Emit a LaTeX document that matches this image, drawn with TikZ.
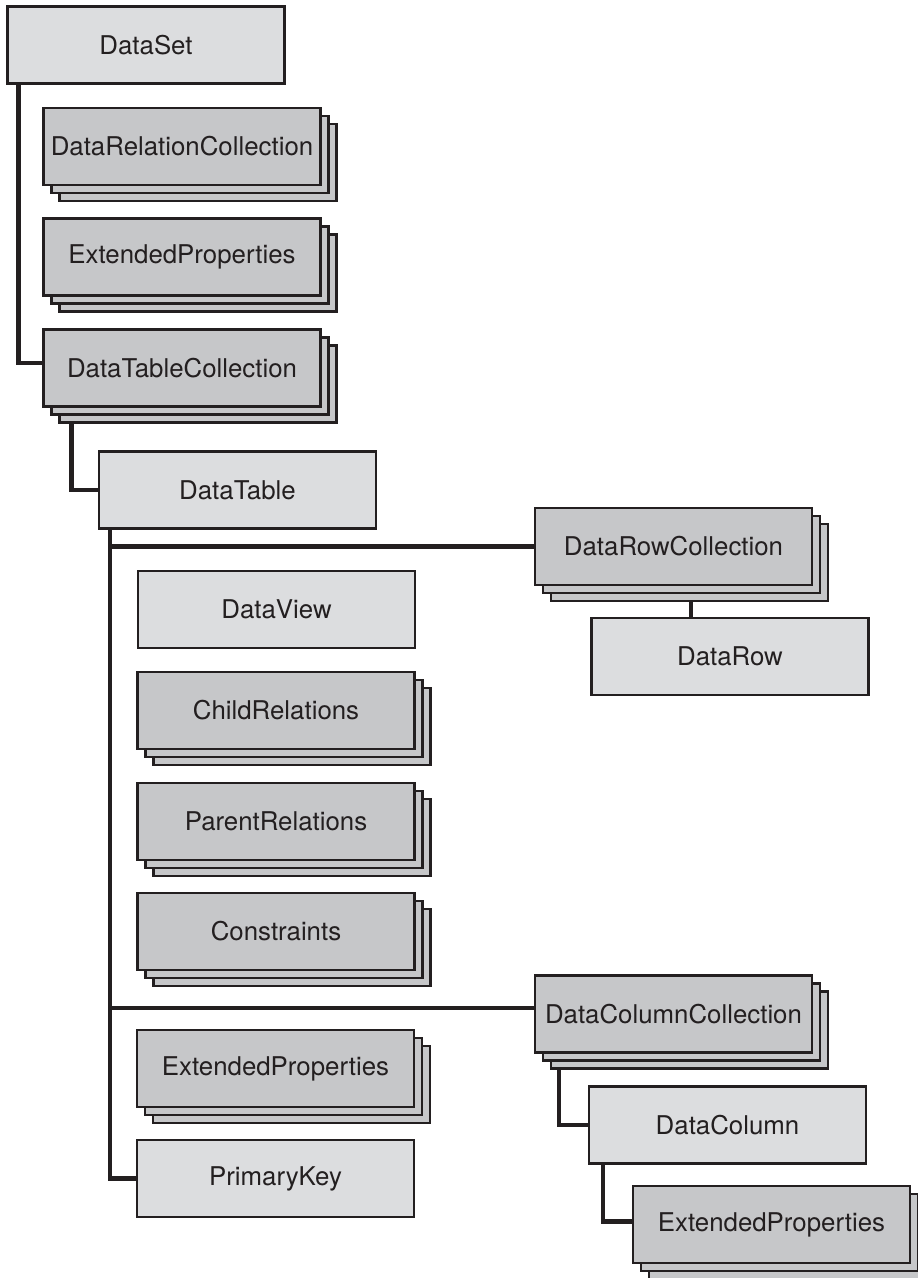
\documentclass[tikz,border=0pt]{standalone}
\usepackage{fontspec}
\setmainfont{TeX Gyre Heros}
\usetikzlibrary{positioning,calc,shadows,backgrounds}
\definecolor{boxlight}{HTML}{DCDDDF}
\definecolor{boxdark}{HTML}{C6C7C9}
\definecolor{edge}{HTML}{231F20}
\tikzset{
  conn/.style    = {line width=0.09cm, draw=edge},
  obox/.style    = {draw=edge, line width=0.042cm, fill=boxlight, text=edge,
                    minimum width=5.54cm, minimum height=1.54cm, inner sep=2pt,
                    font=\fontsize{14.7pt}{17pt}\selectfont},
  cbox/.style    = {obox, fill=boxdark,
                    copy shadow={shadow xshift=0.32cm, shadow yshift=-0.32cm,
                                 fill=boxdark, draw=edge, line width=0.042cm},
                    copy shadow={shadow xshift=0.16cm, shadow yshift=-0.16cm,
                                 fill=boxdark, draw=edge, line width=0.042cm}},
}
\begin{document}
\begin{tikzpicture}[x=0.02cm, y=-0.02cm]
  \clip (0,0) rectangle (918,1278);
  % DataSet and its members
  \node[obox] (dataset)    at (146,45)     {DataSet};
  \node[cbox] (relcoll)    at (182,146.5)  {DataRelationCollection};
  \node[cbox] (dsext)      at (182,257)    {ExtendedProperties};
  \node[cbox] (tablecoll)  at (182,368)    {DataTableCollection};
  % DataTable and its members
  \node[obox] (datatable)  at (237.5,490)  {DataTable};
  \node[obox] (dataview)   at (276.5,609.5){DataView};
  \node[cbox] (childrel)   at (276,710.5)  {ChildRelations};
  \node[cbox] (parentrel)  at (276,821.5)  {ParentRelations};
  \node[cbox] (constr)     at (276,931.5)  {Constraints};
  \node[cbox] (tblext)     at (275.5,1068.5){ExtendedProperties};
  \node[obox] (primkey)    at (275.5,1178.5){PrimaryKey};
  % rows and columns
  \node[cbox] (rowcoll)    at (673.5,546.5){DataRowCollection};
  \node[obox] (datarow)    at (730,656.5)  {DataRow};
  \node[cbox] (colcoll)    at (673.5,1014) {DataColumnCollection};
  \node[obox] (datacol)    at (727.5,1125) {DataColumn};
  \node[cbox] (colext)     at (771.5,1224.5){ExtendedProperties};
  % connectors behind the boxes
  \begin{scope}[on background layer]
    \draw[conn] (dataset.south west)++(12,0) |- ([yshift=0.1cm]tablecoll.west);
    \draw[conn] (tablecoll.south west)++(29,0) |- (datatable.west);
    \draw[conn] (datatable.south west)++(12,0) |- (primkey.west);
    \draw[conn] (datatable.south west)++(12,0) |- (rowcoll.west);
    \draw[conn] (datatable.south west)++(12,0) |- ([yshift=0.12cm]colcoll.west);
    \draw[conn] ([xshift=0.35cm]rowcoll.south) -- ([xshift=0.35cm]rowcoll.south |- datarow.north);
    \draw[conn] (colcoll.south west)++(25,0) |- (datacol.west);
    \draw[conn] (datacol.south west)++(15,0) |- ([yshift=0.06cm]colext.west);
  \end{scope}
\end{tikzpicture}
\end{document}
